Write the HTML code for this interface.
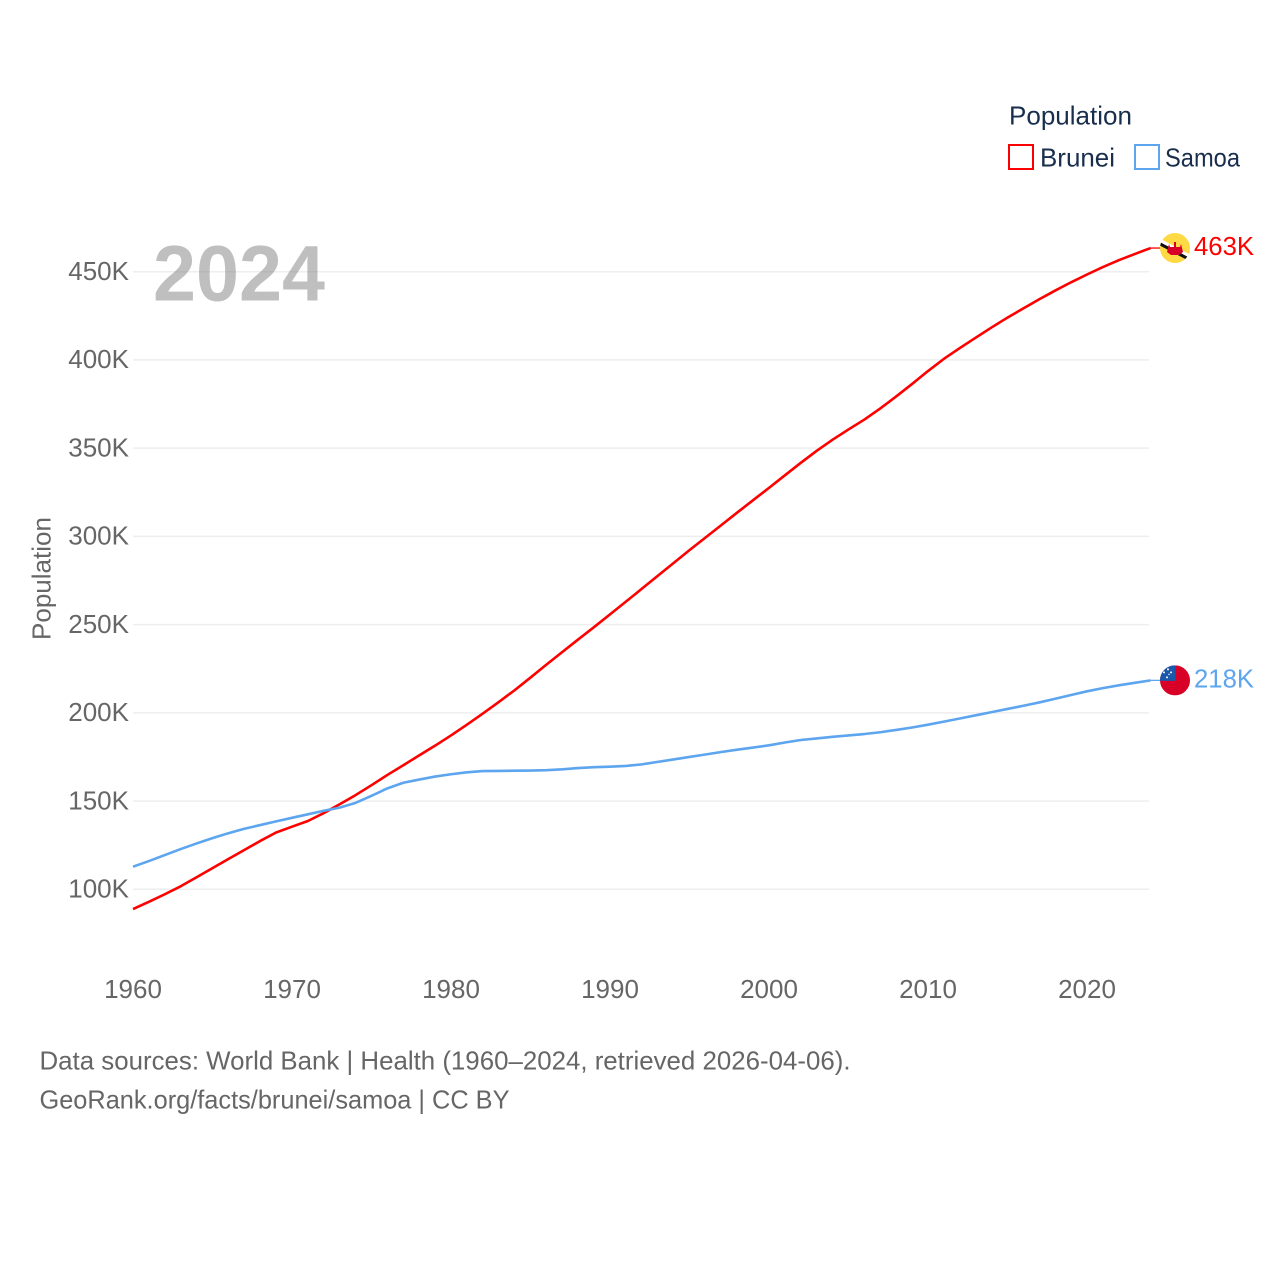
<!DOCTYPE html>
<html lang="en">
<head>
<meta charset="utf-8">
<title>Population: Brunei and Samoa</title>
<style>
  html, body { margin: 0; padding: 0; background: #fff; }
  svg { display: block; font-family: "Liberation Sans", sans-serif; }
</style>
</head>
<body>
<svg id="chart" xmlns="http://www.w3.org/2000/svg" width="1280" height="1280" viewBox="0 0 1280 1280">
  <defs>
    <clipPath id="flag-clip"><circle cx="0" cy="0" r="15"></circle></clipPath>
  </defs>
  <rect x="0" y="0" width="1280" height="1280" fill="#fff"></rect>

  <g id="grid"></g>
  <g id="y-ticks"></g>
  <g id="x-ticks"></g>

  <text transform="translate(50.5,578.5) rotate(-90)" text-anchor="middle" font-size="26" fill="#666" textLength="123" lengthAdjust="spacingAndGlyphs">Population</text>

  <text x="153" y="300.5" font-size="79" font-weight="700" fill="#808080" fill-opacity="0.5" textLength="172" lengthAdjust="spacingAndGlyphs">2024</text>

  <g id="series"></g>

  <g id="flag-brunei">
    <g clip-path="url(#flag-clip)">
      <rect x="-15" y="-15" width="30" height="30" fill="#ffda44"></rect>
      <polygon points="-17,-10.5 17,7.5 17,11.5 -17,-6.5" fill="#fff"></polygon>
      <polygon points="-17,-7 17,11 17,14.5 -17,-3.5" fill="#111"></polygon>
      <polygon points="-1,-6 1,-6 1,-1 5,-1 6,-4 8,4 4,7 -4,7 -8,4 -6,-4 -5,-1 -1,-1" fill="#d80027"></polygon>
    </g>
  </g>
  <g id="flag-samoa">
    <g clip-path="url(#flag-clip)">
      <rect x="-15" y="-15" width="30" height="30" fill="#d80027"></rect>
      <rect x="-15" y="-15" width="15.5" height="15.5" fill="#1a58ab"></rect>
      <circle cx="-7" cy="-11" r="1" fill="#fff"></circle>
      <circle cx="-11" cy="-8" r="1" fill="#fff"></circle>
      <circle cx="-4" cy="-8" r="1" fill="#fff"></circle>
      <circle cx="-6" cy="-6" r="0.7" fill="#fff"></circle>
      <circle cx="-8" cy="-3" r="1" fill="#fff"></circle>
    </g>
  </g>

  <text id="label-brunei" x="1194" font-size="26" fill="#ff0000" textLength="60" lengthAdjust="spacingAndGlyphs"></text>
  <text id="label-samoa" x="1194" font-size="26" fill="#5da5ee" textLength="60" lengthAdjust="spacingAndGlyphs"></text>

  <g>
    <text x="1009" y="124.5" font-size="26" fill="#192e4d" textLength="123" lengthAdjust="spacingAndGlyphs">Population</text>
    <g>
      <rect x="1009" y="145" width="24" height="24" fill="#fff" stroke="#ff0000" stroke-width="2"></rect>
      <text x="1040" y="166.5" font-size="26" fill="#192e4d" textLength="75" lengthAdjust="spacingAndGlyphs">Brunei</text>
    </g>
    <g>
      <rect x="1135" y="145" width="24" height="24" fill="#fff" stroke="#5da5ee" stroke-width="2"></rect>
      <text x="1165" y="166.5" font-size="26" fill="#192e4d" textLength="75" lengthAdjust="spacingAndGlyphs">Samoa</text>
    </g>
  </g>

  <text x="39.5" y="1069.5" font-size="26" fill="#666" textLength="811" lengthAdjust="spacingAndGlyphs">Data sources: World Bank | Health (1960–2024, retrieved 2026-04-06).</text>
  <text x="39.5" y="1108.5" font-size="26" fill="#666" textLength="470" lengthAdjust="spacingAndGlyphs">GeoRank.org/facts/brunei/samoa | CC BY</text>
</svg>

<script>
const years = [1960,1961,1962,1963,1964,1965,1966,1967,1968,1969,1970,1971,1972,1973,1974,1975,1976,1977,1978,1979,1980,1981,1982,1983,1984,1985,1986,1987,1988,1989,1990,1991,1992,1993,1994,1995,1996,1997,1998,1999,2000,2001,2002,2003,2004,2005,2006,2007,2008,2009,2010,2011,2012,2013,2014,2015,2016,2017,2018,2019,2020,2021,2022,2023,2024];
const bruneiValues = [88.8,92.9,97.2,101.7,106.8,112,117.2,122.3,127.4,132.2,135.5,138.7,143.2,148.2,153.4,159,164.8,170.3,175.9,181.4,187.2,193.3,199.6,206.1,212.8,220,227.3,234.5,241.6,248.6,255.8,263,270.3,277.6,284.9,292.2,299.3,306.4,313.5,320.5,327.5,334.6,341.7,348.5,354.8,360.6,366.2,372.5,379.3,386.4,393.7,400.6,406.7,412.6,418.4,424,429.2,434.4,439.3,444,448.4,452.6,456.5,460,463.4];
const samoaValues = [112.8,116,119.4,122.8,126,129,131.8,134.3,136.4,138.5,140.5,142.5,144.5,146.3,149,153,157.2,160.4,162.2,163.9,165.2,166.3,167,167.1,167.2,167.3,167.5,168,168.7,169.2,169.5,169.9,170.8,172.2,173.6,175,176.4,177.8,179.1,180.3,181.6,183.2,184.6,185.5,186.4,187.2,188,189,190.3,191.7,193.3,195,196.8,198.6,200.4,202.2,204,205.9,208,210.1,212.2,214,215.6,217,218.4];
const yTickValues = [100,150,200,250,300,350,400,450];
const xTickValues = [1960,1970,1980,1990,2000,2010,2020];

const SVG_NS = 'http://www.w3.org/2000/svg';

function xScale(year) {
  return 133 + (year - 1960) * 15.9;
}
function yScale(value) {
  return 889.3 - (value - 100) * 1.7646;
}
function make(tag, attrs, parent) {
  const node = document.createElementNS(SVG_NS, tag);
  for (const key in attrs) node.setAttribute(key, attrs[key]);
  parent.appendChild(node);
  return node;
}

const gridGroup = document.getElementById('grid');
const yTickGroup = document.getElementById('y-ticks');
const xTickGroup = document.getElementById('x-ticks');
const seriesGroup = document.getElementById('series');

yTickValues.forEach(function (tick) {
  const y = yScale(tick);
  const line = make('line', { x1: 133, x2: 1149, y1: y, y2: y, stroke: '#eeeeee', 'stroke-width': 1.5 }, gridGroup);
  
  
  const label = make('text', { x: 129, y: y + 8.3, 'text-anchor': 'end', 'font-size': 26, fill: '#666' }, yTickGroup);
  
  
  label.textContent = tick + 'K';
});

xTickValues.forEach(function (tick) {
  const label = make('text', { x: xScale(tick), y: 998, 'text-anchor': 'middle', 'font-size': 26, fill: '#666' }, xTickGroup);
  
  
  label.textContent = tick;
});

function linePoints(values) {
  return values.map(function (value, i) {
    return xScale(years[i]).toFixed(2) + ',' + yScale(value).toFixed(2);
  }).join(' ');
}

const bruneiLine = make('polyline', { points: linePoints(bruneiValues), fill: 'none', stroke: '#ff0000', 'stroke-width': 2.6, 'stroke-linejoin': 'round' }, seriesGroup);



const samoaLine = make('polyline', { points: linePoints(samoaValues), fill: 'none', stroke: '#5da5ee', 'stroke-width': 2.6, 'stroke-linejoin': 'round' }, seriesGroup);



const bruneiLast = bruneiValues[bruneiValues.length - 1];
const samoaLast = samoaValues[samoaValues.length - 1];
const lastYear = years[years.length - 1];

const bruneiStub = make('line', { x1: xScale(lastYear), x2: 1161, y1: yScale(bruneiLast), y2: yScale(bruneiLast), stroke: '#ff0000', 'stroke-width': 1.3 }, seriesGroup);



const samoaStub = make('line', { x1: xScale(lastYear), x2: 1161, y1: yScale(samoaLast), y2: yScale(samoaLast), stroke: '#5da5ee', 'stroke-width': 1.3 }, seriesGroup);



document.getElementById('flag-brunei').setAttribute('transform', 'translate(1175,' + yScale(bruneiLast) + ')');
document.getElementById('flag-samoa').setAttribute('transform', 'translate(1175,' + yScale(samoaLast) + ')');

const bruneiLabel = document.getElementById('label-brunei');
bruneiLabel.setAttribute('y', yScale(bruneiLast) + 7);
bruneiLabel.textContent = Math.round(bruneiLast) + 'K';

const samoaLabel = document.getElementById('label-samoa');
samoaLabel.setAttribute('y', yScale(samoaLast) + 7);
samoaLabel.textContent = Math.round(samoaLast) + 'K';
</script>
</body>
</html>
